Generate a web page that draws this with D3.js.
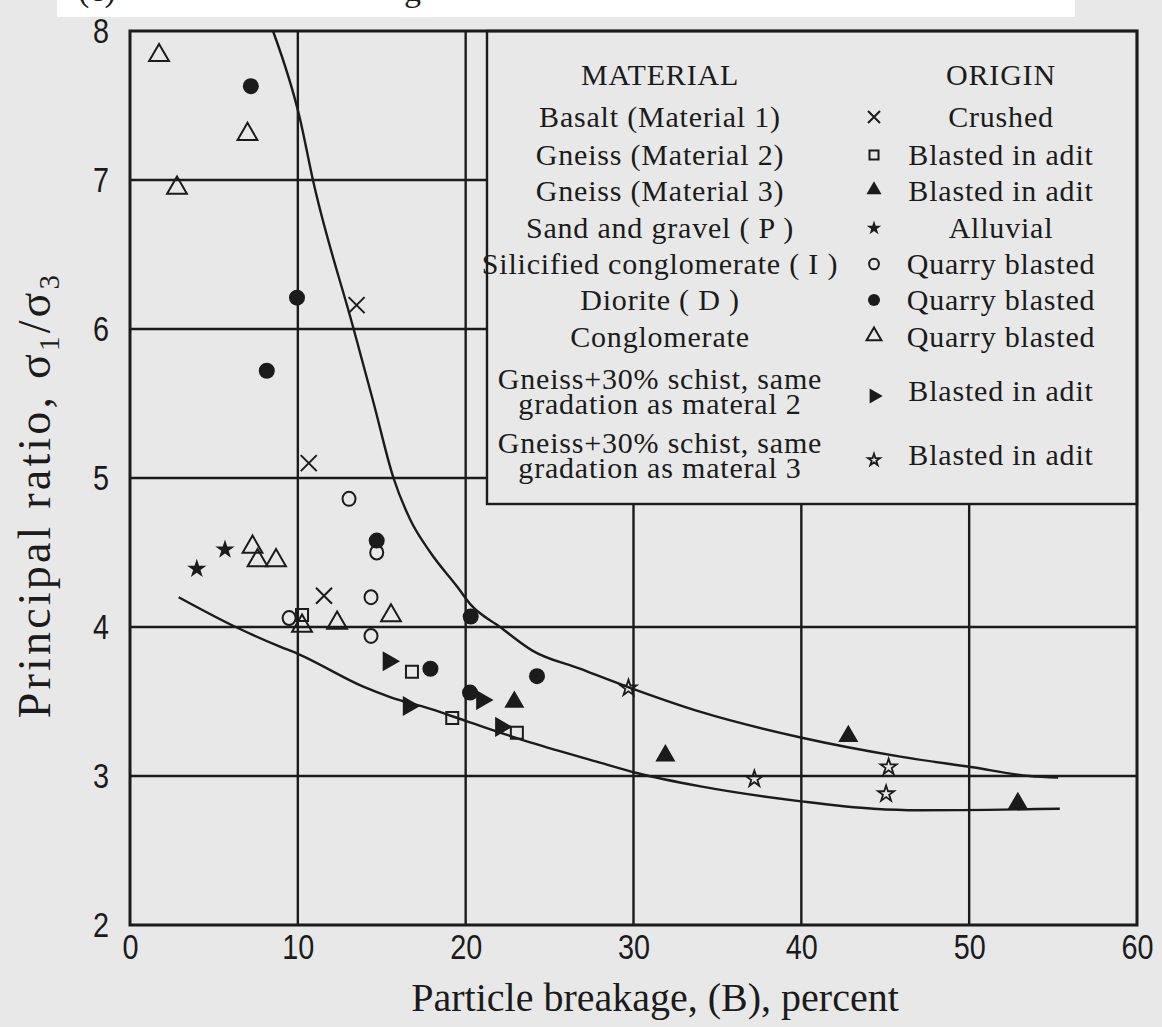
<!DOCTYPE html>
<html>
<head>
<meta charset="utf-8">
<script src="https://cdn.jsdelivr.net/npm/d3@7"></script>
<style>
  body { margin: 0; background: #e8e8e8; }
  svg { display: block; }
</style>
</head>
<body>
<svg id="chart" width="1162" height="1027"></svg>
<script>
// ---- Data: particle breakage B (%) against principal ratio sigma1/sigma3 ----
const basaltCrushed      = [[13.5, 6.16], [10.65, 5.10], [11.56, 4.21]];
const gneiss2Adit        = [[10.25, 4.08], [16.8, 3.70], [19.2, 3.39], [23.05, 3.29]];
const gneiss3Adit        = [[22.9, 3.49], [31.9, 3.13], [42.8, 3.26], [52.9, 2.81]];
const sandGravelAlluvial = [[3.98, 4.39], [5.66, 4.52]];
const silicifiedQuarry   = [[13.05, 4.86], [14.7, 4.50], [14.36, 4.20], [9.48, 4.06], [14.36, 3.94]];
const dioriteQuarry      = [[7.2, 7.63], [9.95, 6.21], [8.15, 5.72], [14.7, 4.58], [20.3, 4.07],
                            [17.9, 3.72], [24.25, 3.67], [20.26, 3.56]];
const conglomerateQuarry = [[1.73, 7.83], [7.0, 7.30], [2.8, 6.94], [7.3, 4.53], [7.6, 4.44],
                            [8.7, 4.44], [10.25, 4.00], [12.34, 4.02], [15.55, 4.07]];
const schistMix2Adit     = [[15.4, 3.77], [16.6, 3.47], [20.97, 3.51], [22.1, 3.33]];
const schistMix3Adit     = [[29.7, 3.59], [37.2, 2.98], [45.2, 3.06], [45.05, 2.88]];

// Upper and lower bounding curves
const upperCurve = [[8.52, 8.0], [10.13, 7.41], [10.9, 7.0], [13.3, 6.01], [14.5, 5.51], [15.7, 5.0],
                    [16.7, 4.72], [17.9, 4.50], [19.5, 4.27], [20.3, 4.15], [22.05, 4.0], [24.0, 3.84],
                    [26.8, 3.72], [29.6, 3.60], [34.0, 3.43], [39.9, 3.26], [45.9, 3.13], [50.1, 3.06],
                    [53.6, 3.00], [55.3, 2.99]];
const lowerCurve = [[2.9, 4.20], [6.3, 4.00], [8.9, 3.87], [10.0, 3.82], [13.9, 3.60], [15.5, 3.53],
                    [17.9, 3.45], [20.0, 3.37], [24.0, 3.22], [28.0, 3.09], [30.2, 3.02], [34.0, 2.93],
                    [40.0, 2.83], [44.3, 2.78], [47.0, 2.77], [55.4, 2.78]];

const xTicks = [0, 10, 20, 30, 40, 50, 60];
const yTicks = [2, 3, 4, 5, 6, 7, 8];

const materialNames = [
  ["Basalt  (Material 1)"],
  ["Gneiss  (Material 2)"],
  ["Gneiss  (Material 3)"],
  ["Sand and gravel  ( P )"],
  ["Silicified conglomerate ( I )"],
  ["Diorite  ( D )"],
  ["Conglomerate"],
  ["Gneiss+30% schist, same", "gradation as materal 2"],
  ["Gneiss+30% schist, same", "gradation as materal 3"]
];
const originNames = ["Crushed", "Blasted in adit", "Blasted in adit", "Alluvial", "Quarry blasted",
                     "Quarry blasted", "Quarry blasted", "Blasted in adit", "Blasted in adit"];
const markerKinds = ["times", "squareOpen", "triFill", "starFill", "circleOpen",
                     "circleFill", "triOpen", "triRight", "starOpen"];
const seriesData  = [basaltCrushed, gneiss2Adit, gneiss3Adit, sandGravelAlluvial, silicifiedQuarry,
                     dioriteQuarry, conglomerateQuarry, schistMix2Adit, schistMix3Adit];

// ---- Layout ----
const INK = "#1b1b1b";
const BG = "#e8e8e8";
const svg = d3.select("#chart");
const x = d3.scaleLinear().domain([0, 60]).range([130, 1137]);
const y = d3.scaleLinear().domain([2, 8]).range([925, 31]);

svg.append("rect").attr("width", 1162).attr("height", 1027).attr("fill", BG);

// clipped caption strip above the figure
svg.append("rect").attr("x", 57).attr("y", 0).attr("width", 1018).attr("height", 17).attr("fill", "#ffffff");
const cap = svg.append("g").attr("font-family", "Liberation Serif").attr("font-size", 34).attr("fill", INK);
cap.append("text").attr("x", 78).attr("y", 1).text("(c)");
cap.append("text").attr("x", 404).attr("y", 1).text("g");

// grid
const grid = svg.append("g").attr("stroke", INK).attr("stroke-width", 2.4);
grid.selectAll("line.v").data(xTicks.slice(1, -1)).join("line")
  .attr("x1", d => x(d)).attr("x2", d => x(d)).attr("y1", y(2)).attr("y2", y(8));
grid.selectAll("line.h").data(yTicks.slice(1, -1)).join("line")
  .attr("y1", d => y(d)).attr("y2", d => y(d)).attr("x1", x(0)).attr("x2", x(60));

// legend panel (covers the grid in the upper right)
const legX = 487, legY = y(8), legW = x(60) - 487, legH = 504 - y(8);
svg.append("rect").attr("x", legX).attr("y", legY).attr("width", legW).attr("height", legH)
  .attr("fill", BG).attr("stroke", INK).attr("stroke-width", 2.4);

// plot frame
svg.append("rect").attr("x", x(0)).attr("y", y(8)).attr("width", x(60) - x(0)).attr("height", y(2) - y(8))
  .attr("fill", "none").attr("stroke", INK).attr("stroke-width", 3);

// curves
const line = d3.line().x(d => x(d[0])).y(d => y(d[1])).curve(d3.curveMonotoneX);
svg.append("path").datum(upperCurve).attr("d", line).attr("fill", "none").attr("stroke", INK).attr("stroke-width", 2.4);
svg.append("path").datum(lowerCurve).attr("d", line).attr("fill", "none").attr("stroke", INK).attr("stroke-width", 2.4);

// marker drawing
function drawMarker(g, kind, s) {
  const sym = (type, area) => d3.symbol().type(type).size(area * s * s)();
  switch (kind) {
    case "times": {
      const h = 8 * s;
      g.append("path").attr("d", `M${-h},${-h}L${h},${h}M${-h},${h}L${h},${-h}`)
        .attr("stroke", INK).attr("stroke-width", 2).attr("fill", "none");
      break;
    }
    case "squareOpen":
      g.append("path").attr("d", sym(d3.symbolSquare, 144)).attr("fill", "none").attr("stroke", INK).attr("stroke-width", 2);
      break;
    case "triFill":
      g.append("path").attr("d", sym(d3.symbolTriangle, 175)).attr("transform", "translate(0,-1)").attr("fill", INK);
      break;
    case "triOpen":
      g.append("path").attr("d", sym(d3.symbolTriangle, 170)).attr("transform", "translate(0,-1)")
        .attr("fill", "none").attr("stroke", INK).attr("stroke-width", 2);
      break;
    case "triRight":
      g.append("path").attr("d", sym(d3.symbolTriangle, 175)).attr("transform", "rotate(90)").attr("fill", INK);
      break;
    case "starFill":
      g.append("path").attr("d", sym(d3.symbolStar, 115)).attr("fill", INK);
      break;
    case "starOpen":
      g.append("path").attr("d", sym(d3.symbolStar, 80)).attr("fill", "none").attr("stroke", INK).attr("stroke-width", 1.8);
      break;
    case "circleOpen":
      g.append("ellipse").attr("rx", 6.5 * s).attr("ry", 7 * s).attr("fill", "none").attr("stroke", INK).attr("stroke-width", 2);
      break;
    case "circleFill":
      g.append("circle").attr("r", 8 * s).attr("fill", INK);
      break;
  }
}

// data points
const pts = svg.append("g");
seriesData.forEach((data, i) => {
  pts.append("g").selectAll("g").data(data).join("g")
    .attr("transform", d => `translate(${x(d[0])},${y(d[1])})`)
    .each(function () { drawMarker(d3.select(this), markerKinds[i], 1); });
});

// axes
const tickFont = g => g.attr("font-family", "Liberation Sans").attr("font-size", 36).attr("fill", INK);
const xAxis = svg.append("g").attr("transform", `translate(0,${y(2)})`)
  .call(d3.axisBottom(x).tickValues(xTicks).tickSize(0).tickPadding(8).tickFormat(d3.format("d")));
xAxis.select(".domain").remove();
xAxis.selectAll("text").call(tickFont).attr("transform", "scale(0.8,1)");

const yAxis = svg.append("g").attr("transform", `translate(${x(0)},0)`)
  .call(d3.axisLeft(y).tickValues(yTicks).tickSize(0).tickFormat(d3.format("d")));
yAxis.select(".domain").remove();
yAxis.selectAll("text").call(tickFont).attr("text-anchor", "middle")
  .attr("x", -29 / 0.8).attr("transform", "scale(0.8,1)");

// axis titles
svg.append("text").attr("x", 655).attr("y", 1011).attr("text-anchor", "middle")
  .attr("font-family", "Liberation Serif").attr("font-size", 40).attr("fill", INK)
  .text("Particle breakage, (B), percent");

const yTitle = svg.append("text").attr("transform", "translate(50,495) rotate(-90)").attr("text-anchor", "middle")
  .attr("font-family", "Liberation Serif").attr("font-size", 46).attr("letter-spacing", 3.2).attr("fill", INK);
yTitle.append("tspan").text("Principal ratio, σ");
yTitle.append("tspan").attr("font-size", 29).attr("dy", 9).text("1");
yTitle.append("tspan").attr("dy", -9).text("/σ");
yTitle.append("tspan").attr("font-size", 29).attr("dy", 9).text("3");

// legend content
const leg = svg.append("g").attr("font-family", "Liberation Serif").attr("font-size", 30)
  .attr("fill", INK).attr("letter-spacing", 0.8);
const matCx = 660, oriCx = 1001, symX = 874;
const headerY = 75;
const rowCenters = [117, 155, 191, 228, 264, 300, 337, 391, 455];
const capOffset = 10, lineGap = 25;

leg.append("text").attr("x", matCx).attr("y", headerY + capOffset).attr("text-anchor", "middle").text("MATERIAL");
leg.append("text").attr("x", oriCx).attr("y", headerY + capOffset).attr("text-anchor", "middle").text("ORIGIN");

materialNames.forEach((lines, i) => {
  const c = rowCenters[i];
  // one text element per entry; wrapped entries use stacked tspans
  const t = leg.append("text").attr("text-anchor", "middle")
    .attr("y", c - (lines.length - 1) / 2 * lineGap + capOffset);
  lines.forEach((s, j) => {
    t.append("tspan").attr("x", matCx).attr("dy", j === 0 ? 0 : lineGap).text(s);
  });
  leg.append("text").attr("x", oriCx).attr("y", c + capOffset).attr("text-anchor", "middle").text(originNames[i]);
  const sg = leg.append("g").attr("transform", `translate(${symX},${c + (lines.length > 1 ? 5 : 0)})`);
  drawMarker(sg, markerKinds[i], 0.75);
});
</script>
</body>
</html>
